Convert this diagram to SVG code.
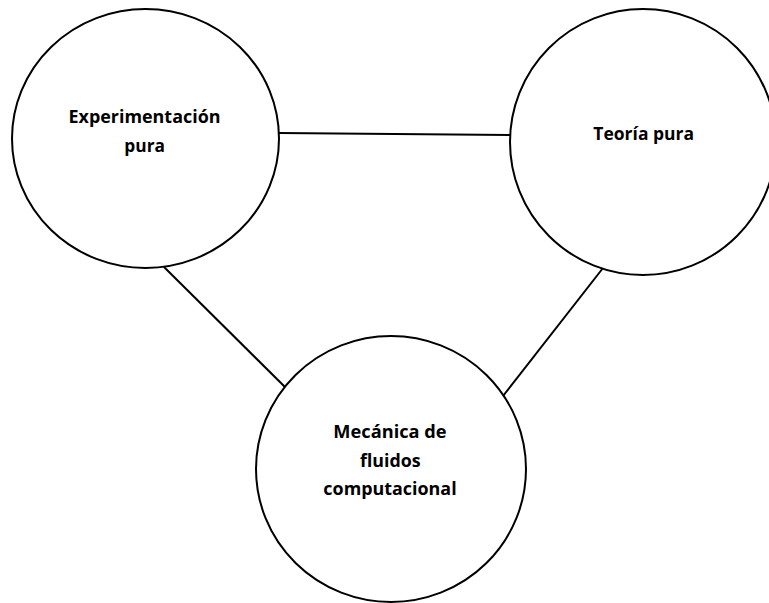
<svg xmlns="http://www.w3.org/2000/svg" width="769" height="603" viewBox="0 0 769 603">
<style>
.node{fill:#fff;stroke:#000;stroke-width:2}
.edge{stroke:#000;stroke-width:2;fill:none}
.lbl{font-family:"Open Sans","Liberation Sans",sans-serif;font-weight:bold;font-size:17px;fill:#000;text-anchor:middle}
</style>
<rect width="769" height="603" fill="#fff"/>
<g id="connectors">
<line class="edge" x1="279" y1="133" x2="511" y2="135"/>
<line class="edge" x1="164" y1="267" x2="285" y2="387"/>
<line class="edge" x1="603" y1="268" x2="503" y2="396"/>
</g>
<g id="experimentacion">
<ellipse class="node" cx="145.5" cy="138.5" rx="133.5" ry="129.5"/>
<text class="lbl" x="144.5" y="123.3" textLength="152" lengthAdjust="spacingAndGlyphs">Experimentación</text>
<text class="lbl" x="144.7" y="151.7" textLength="40.7" lengthAdjust="spacingAndGlyphs">pura</text>
</g>
<g id="teoria">
<ellipse class="node" cx="643" cy="142" rx="133" ry="133"/>
<text class="lbl" x="643.7" y="140" textLength="100.7" lengthAdjust="spacingAndGlyphs">Teoría pura</text>
</g>
<g id="cfd">
<ellipse class="node" cx="391" cy="469" rx="135" ry="133"/>
<text class="lbl" x="390" y="438.3" textLength="113.3" lengthAdjust="spacingAndGlyphs">Mecánica de</text>
<text class="lbl" x="390.3" y="466.7" textLength="60.7" lengthAdjust="spacingAndGlyphs">fluidos</text>
<text class="lbl" x="390" y="495" textLength="133.3" lengthAdjust="spacingAndGlyphs">computacional</text>
</g>
</svg>
